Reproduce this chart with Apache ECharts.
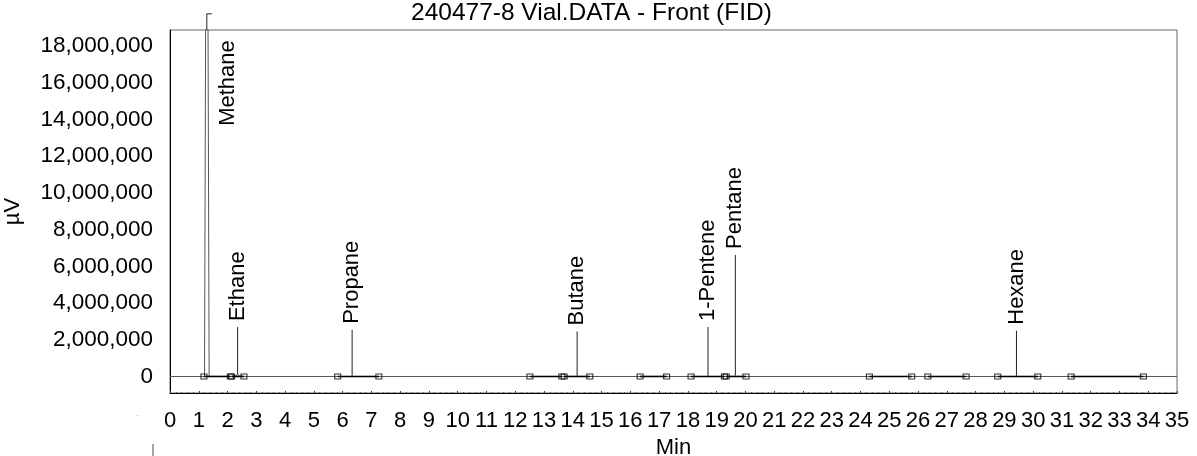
<!DOCTYPE html>
<html>
<head>
<meta charset="utf-8">
<script src="https://cdn.jsdelivr.net/npm/echarts@6/dist/echarts.min.js"></script>
<style>
  html, body { margin: 0; padding: 0; background: #fff; }
  #main { width: 1197px; height: 456px; }
</style>
</head>
<body>
<div id="main"></div>
<script>
// FID trace, retention time (min) vs signal (µV)
const traceTime  = [0, 1.20, 1.28, 1.36, 2.14, 2.30, 2.35, 2.40, 2.57, 6.27, 6.33, 6.40, 14.09, 14.15, 14.21, 18.64, 18.70, 18.76, 19.59, 19.65, 19.71, 29.36, 29.42, 29.48, 35];
const traceValue = [0, 0, 40000000, 0, 0, 30000, 140000, 30000, 0, 0, 40000, 0, 0, 35000, 0, 0, 35000, 0, 0, 45000, 0, 0, 35000, 0, 0];

// integration markers (peak start / end)
const markerTime = [1.18, 2.10, 2.14, 2.57, 5.83, 7.26, 12.51, 13.62, 13.70, 14.59, 16.34, 17.26, 18.11, 19.27, 19.33, 20.02, 24.31, 25.78, 26.34, 27.67, 28.77, 30.16, 31.32, 33.83];

// integration baselines
const baseStart = [1.18, 2.14, 5.83, 12.51, 13.70, 16.34, 18.11, 19.33, 24.31, 26.34, 28.77, 31.32];
const baseEnd   = [2.10, 2.57, 7.26, 13.62, 14.59, 17.26, 19.27, 20.02, 25.78, 27.67, 30.16, 33.83];

// named peaks
const peakName    = ['Methane', 'Ethane', 'Propane', 'Butane', '1-Pentene', 'Pentane', 'Hexane'];
const peakTime    = [1.28, 2.35, 6.33, 14.15, 18.70, 19.65, 29.42];
const peakApex    = [40000000, 140000, 40000, 35000, 35000, 45000, 35000];
const peakLabelAt = [19750000, 2690000, 2540000, 2450000, 2690000, 6620000, 2490000];

const yTicks = [0, 2000000, 4000000, 6000000, 8000000, 10000000, 12000000, 14000000, 16000000, 18000000];
const Y_MIN = -900000;
const Y_MAX = 18870000;

const FONT = '"Liberation Sans", Arial, sans-serif';

const chart = echarts.init(document.getElementById('main'));

const option = {
  animation: false,
  title: {
    text: '240477-8 Vial.DATA - Front (FID)',
    left: 406,
    top: -4,
    textStyle: { fontFamily: FONT, fontSize: 24.5, fontWeight: 'normal', color: '#000' }
  },
  grid: {
    left: 170, right: 20, top: 30, bottom: 63,
    containLabel: false,
    outerBoundsMode: 'none',
    show: true, borderColor: '#666', borderWidth: 1
  },
  xAxis: {
    type: 'value',
    min: 0, max: 35, interval: 1,
    name: 'Min', nameLocation: 'middle', nameGap: 35,
    nameTextStyle: { fontFamily: FONT, fontSize: 22, color: '#000' },
    axisLine: { show: true, onZero: false, lineStyle: { color: '#000', width: 1 } },
    axisTick: { show: true, inside: true, length: 2, lineStyle: { color: '#444' } },
    minorTick: { show: true, splitNumber: 5, length: 1, lineStyle: { color: '#666' } },
    axisLabel: { fontFamily: FONT, fontSize: 22, color: '#000', margin: 17 },
    splitLine: { show: false }
  },
  yAxis: {
    type: 'value',
    min: Y_MIN, max: Y_MAX,
    name: 'µV', nameLocation: 'middle', nameGap: 146, nameRotate: 90,
    nameTextStyle: { fontFamily: FONT, fontSize: 22, color: '#000' },
    axisLine: { show: true, onZero: false, lineStyle: { color: '#000', width: 1 } },
    axisTick: { show: false },
    axisLabel: {
      fontFamily: FONT, fontSize: 22.5, color: '#000', margin: 17,
      customValues: yTicks,
      formatter: v => v.toLocaleString('en-US')
    },
    splitLine: { show: false }
  },
  series: [
    {
      name: 'trace',
      type: 'line',
      data: traceTime.map((t, i) => [t, traceValue[i]]),
      symbol: 'none',
      lineStyle: { color: '#555', width: 1 },
      z: 2
    },
    {
      name: 'baseline',
      type: 'custom',
      data: baseStart.map((s, i) => [s, baseEnd[i]]),
      renderItem: function (params, api) {
        const a = api.coord([api.value(0), 0]);
        const b = api.coord([api.value(1), 0]);
        return {
          type: 'line',
          shape: { x1: a[0], y1: a[1], x2: b[0], y2: b[1] },
          style: { stroke: '#000', lineWidth: 1.6 }
        };
      },
      z: 3
    },
    {
      name: 'markers',
      type: 'scatter',
      data: markerTime.map(t => [t, 0]),
      symbol: 'rect',
      symbolSize: [6, 5],
      itemStyle: { color: 'rgba(0,0,0,0)', borderColor: '#000', borderWidth: 1 },
      z: 4
    },
    {
      name: 'peaks',
      type: 'custom',
      clip: false,
      data: peakTime.map((t, i) => [t, peakApex[i], peakLabelAt[i]]),
      renderItem: function (params, api) {
        const t = api.value(0), apex = api.value(1), top = api.value(2);
        const p0 = api.coord([t, Math.min(apex, Y_MAX)]);
        const p1 = api.coord([t, top]);
        const kids = [{
          type: 'line',
          shape: { x1: p0[0], y1: p0[1], x2: p1[0], y2: p1[1] },
          style: { stroke: '#222', lineWidth: 1 }
        }];
        let tx = p1[0], ty = p1[1] - 6;
        if (top > Y_MAX) {
          // off-scale peak: hook at the top, label set beside the trace
          kids.push({
            type: 'line',
            shape: { x1: p1[0], y1: p1[1], x2: p1[0] + 5, y2: p1[1] },
            style: { stroke: '#222', lineWidth: 1 }
          });
          tx = p1[0] + 21;
          ty = api.coord([t, 13650000])[1];
        }
        kids.push({
          type: 'text',
          x: tx, y: ty,
          rotation: Math.PI / 2,
          style: {
            text: peakName[params.dataIndex],
            font: '22px ' + FONT,
            fill: '#000',
            align: 'left',
            verticalAlign: 'middle'
          }
        });
        return { type: 'group', children: kids };
      },
      z: 5
    }
  ],
  graphic: [
    { type: 'line', shape: { x1: 153, y1: 444, x2: 153, y2: 456 }, style: { stroke: '#888', lineWidth: 1.5 } },
    { type: 'rect', shape: { x: 137, y: 415, width: 1, height: 1 }, style: { fill: '#aaa' } }
  ]
};

chart.setOption(option);
</script>
</body>
</html>
